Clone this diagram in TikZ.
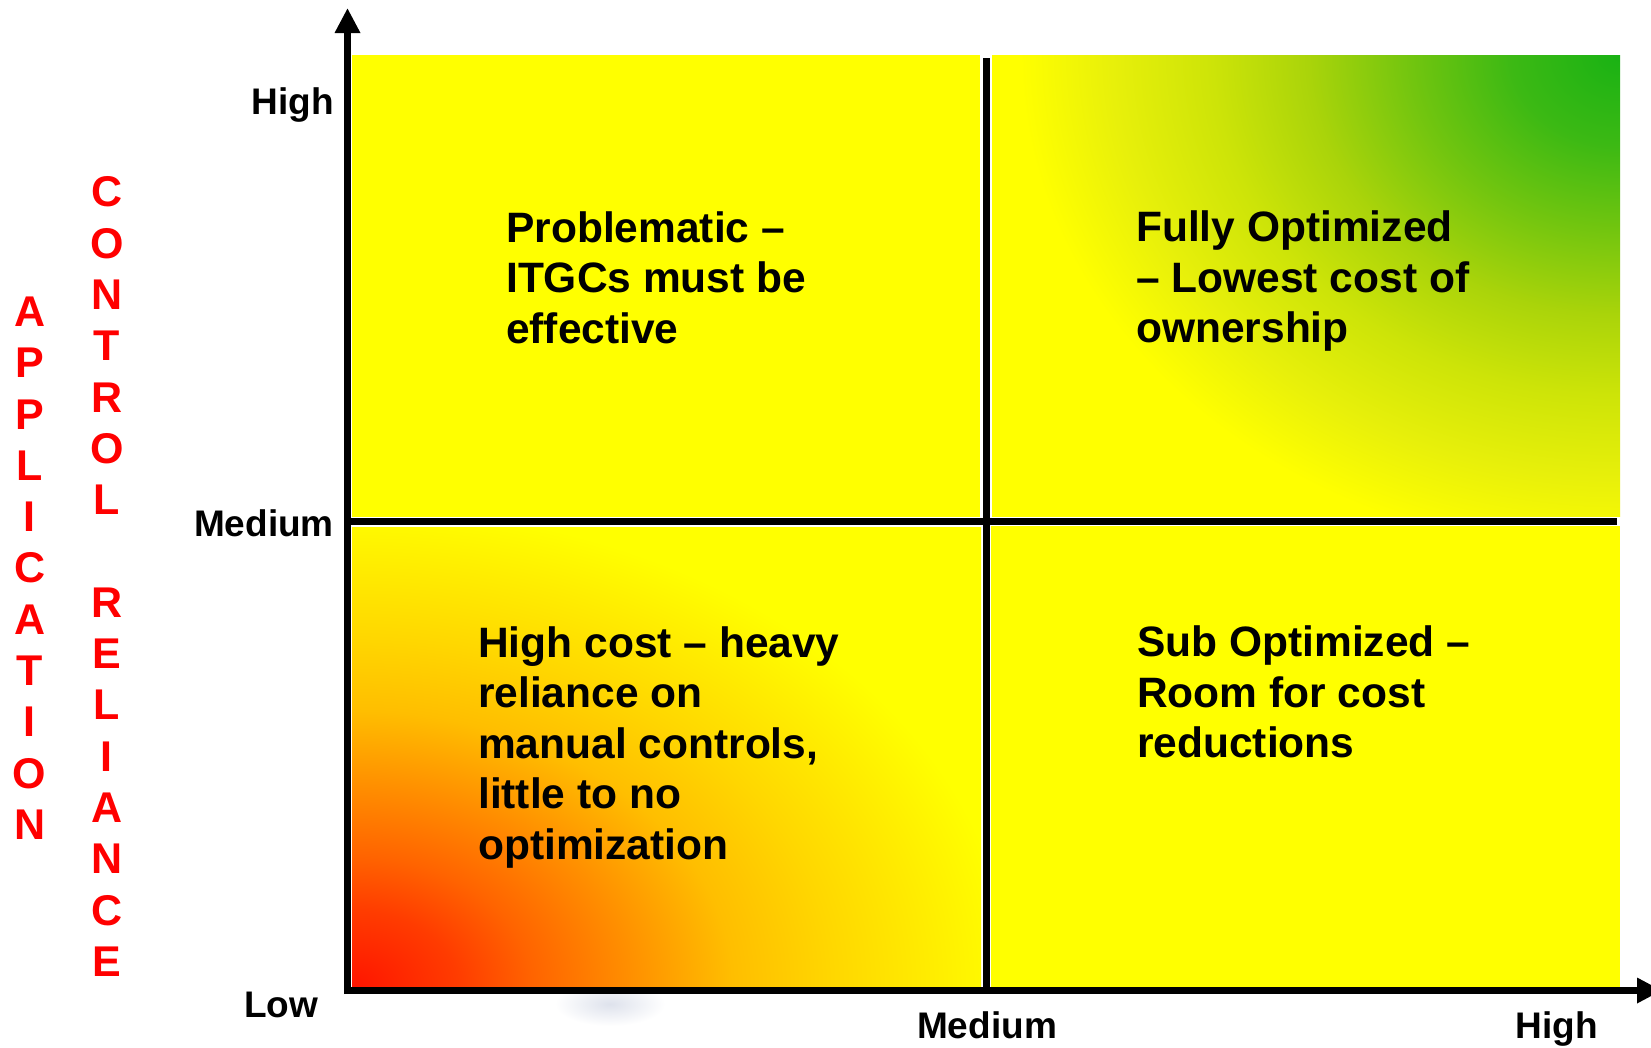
\documentclass[tikz,border=0pt]{standalone}
\usepackage{fontspec}
\setmainfont{Liberation Sans}
\usetikzlibrary{arrows.meta}
\definecolor{qyellow}{RGB}{255,255,0}
\definecolor{shadowgrey}{RGB}{222,226,236}
% shadings: 12.5bp corresponds to the glow radius (shaded box is twice the radius)
\pgfdeclareradialshading{redglow}{\pgfpoint{0bp}{0bp}}{%
  rgb(0bp)=(1,0.08,0);
  rgb(2bp)=(1,0.235,0);
  rgb(3.4bp)=(1,0.39,0);
  rgb(5.25bp)=(1,0.56,0);
  rgb(7.2bp)=(1,0.745,0);
  rgb(9.1bp)=(1,0.843,0);
  rgb(11bp)=(1,0.93,0);
  rgb(12.5bp)=(1,1,0);
  rgb(50bp)=(1,1,0)}
\pgfdeclareradialshading{greenglow}{\pgfpoint{0bp}{0bp}}{%
  rgb(0bp)=(0.098,0.698,0.078);
  rgb(2.25bp)=(0.235,0.725,0.078);
  rgb(4.4bp)=(0.451,0.773,0.059);
  rgb(6.5bp)=(0.667,0.831,0.039);
  rgb(8.5bp)=(0.804,0.894,0.031);
  rgb(10.6bp)=(0.91,0.941,0.039);
  rgb(12.5bp)=(1,1,0);
  rgb(50bp)=(1,1,0)}
\begin{document}
\begin{tikzpicture}[x=1pt,y=-1pt,
  qtext/.style={font=\fontsize{42.5}{50.5}\selectfont\bfseries, align=left, inner sep=0pt, anchor=north west, text=black},
  axlabel/.style={font=\fontsize{37}{42}\selectfont\bfseries, inner sep=0pt, text=black},
  vertlabel/.style={font=\fontsize{43}{51.3}\selectfont\bfseries, text=red, align=center, inner sep=0pt, anchor=north},
  axisline/.style={line width=7pt, -{Triangle[length=25pt,width=24pt]}},
  divider/.style={line width=7pt}]
\useasboundingbox (0,0) rectangle (1651,1047);
\fill[white] (0,0) rectangle (1651,1047);

% faint shadow below the chart
\shade[inner color=shadowgrey, outer color=white] (610,1004) ellipse [x radius=55pt, y radius=22pt];

% quadrants
\fill[qyellow] (352,55) rectangle (980,517);
\fill[qyellow] (992,55) rectangle (1620,516);
\begin{scope}
  \clip (992,55) rectangle (1620,516);
  % glow centred on the top right corner, radii 600 x 500
  \shade[shading=greenglow] (420,-945) rectangle (2820,1055);
\end{scope}
\fill[qyellow] (352,527) rectangle (981,987);
\begin{scope}
  \clip (352,527) rectangle (981,987);
  % glow centred on the bottom left corner, radii 660 x 480
  \shade[shading=redglow] (-968,27) rectangle (1672,1947);
\end{scope}
\fill[qyellow] (991,526) rectangle (1620,987);

% dividers
\coordinate (hdL) at (351,521);
\coordinate (hdR) at (1617,521);
\coordinate (vdT) at (986.5,58);
\coordinate (vdB) at (986.5,990);
\draw[divider] (hdL) -- (hdR);
\draw[divider] (vdT) -- (vdB);

% axes
\coordinate (ybot) at (347.5,994);
\coordinate (ytip) at (347.5,8);
\coordinate (xleft) at (344,990.5);
\coordinate (xtip) at (1662,990.5);
\draw[axisline] (ybot) -- (ytip);
\draw[axisline] (xleft) -- (xtip);

% axis labels
\node[axlabel, anchor=base east] (yhigh) at (334,114) {High};
\node[axlabel, anchor=base east] (ymed) at (334,536.7) {Medium};
\node[axlabel, anchor=base west] (ylow) at (244,1017.7) {Low};
\node[axlabel, anchor=base] (xmed) at (987,1038.3) {Medium};
\node[axlabel, anchor=base] (xhigh) at (1557,1038.3) {High};

% vertical axis title
\node[vertlabel] (app) at (29.7,296.7) {A\\P\\P\\L\\I\\C\\A\\T\\I\\O\\N};
\node[vertlabel] (ctrl) at (106.8,176.7) {C\\O\\N\\T\\R\\O\\L\\[51.3pt]R\\E\\L\\I\\A\\N\\C\\E};

% quadrant texts
\node[qtext] (tl) at (506,211.3) {Problematic –\\ITGCs must be\\effective};
\node[qtext] (tr) at (1136,210.8) {Fully Optimized\\– Lowest cost of\\ownership};
\node[qtext] (bl) at (478,626.3) {High cost – heavy\\reliance on\\manual controls,\\little to no\\optimization};
\node[qtext] (br) at (1137,625.8) {Sub Optimized –\\Room for cost\\reductions};
\end{tikzpicture}
\end{document}
